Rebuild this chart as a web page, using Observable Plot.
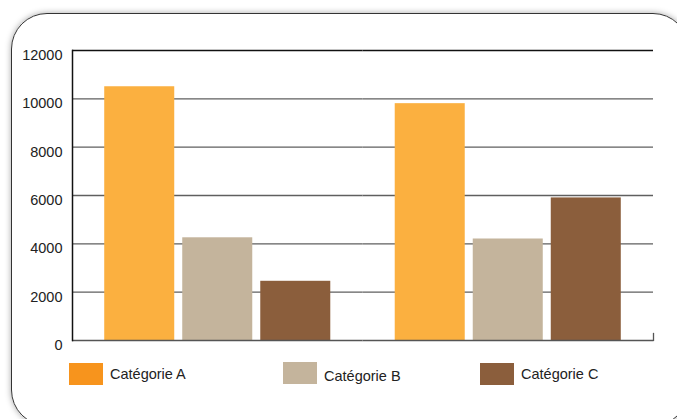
<!DOCTYPE html>
<html>
<head>
<meta charset="utf-8">
<script src="https://cdn.jsdelivr.net/npm/d3@7"></script>
<script src="https://cdn.jsdelivr.net/npm/@observablehq/plot@0.6"></script>
<style>
html, body { margin: 0; padding: 0; background: #fff; overflow: hidden; width: 677px; height: 419px; }
#wrap { position: relative; width: 677px; height: 419px; font-family: "Liberation Sans", Arial, sans-serif; }
#chart { position: absolute; left: 0; top: 0; }
#border { position: absolute; left: 11px; top: 13px; width: 678px; height: 413px; border: 1.5px solid #333;
  border-radius: 36px; box-shadow: 0 0 6px rgba(0,0,0,0.35); pointer-events: none; box-sizing: border-box; }
.leg { position: absolute; display: flex; align-items: center; font-size: 14.5px; color: #222; white-space: nowrap; }
.sw { width: 34px; height: 22px; margin-right: 7px; }
</style>
</head>
<body>
<div id="wrap">
  <div id="chart"></div>
  <div id="border"></div>
</div>
<script>
// ---- data ----
const groups = ["Groupe 1", "Groupe 2"];
const categories = ["Catégorie A", "Catégorie B", "Catégorie C"];
const valuesGroup1 = [10500, 4250, 2450];
const valuesGroup2 = [9800, 4200, 5900];
const yTicks = [0, 2000, 4000, 6000, 8000, 10000, 12000];
const barColors = ["#FBB040", "#C4B49C", "#8B5E3C"];
const legendColors = ["#F7941D", "#C4B49C", "#8B5E3C"];

const rows = [];
[valuesGroup1, valuesGroup2].forEach((vals, gi) => {
  vals.forEach((v, ci) => rows.push({group: groups[gi], category: categories[ci], value: v}));
});

const plot = Plot.plot({
  width: 677,
  height: 419,
  marginLeft: 72,
  marginRight: 24,
  marginTop: 50,
  marginBottom: 79,
  style: {background: "transparent", fontFamily: "'Liberation Sans', Arial, sans-serif"},
  fx: {domain: groups, padding: 0, axis: null, round: false},
  x: {domain: categories, paddingInner: 8 / 78, paddingOuter: 0.413, axis: null, round: false},
  y: {domain: [0, 12000], axis: null},
  color: {domain: categories, range: barColors},
  marks: [
    Plot.ruleY(yTicks.filter(t => t > 0 && t < 12000), {stroke: "#5f5f5f", strokeWidth: 1.3}),
    Plot.ruleY([12000], {stroke: "#111", strokeWidth: 1.3}),
    Plot.barY(rows, {fx: "group", x: "category", y: "value", fill: "category"}),
    Plot.ruleY([0], {stroke: "#555", strokeWidth: 1.5}),
    Plot.frame({anchor: "left", facetAnchor: "left", stroke: "#111", strokeWidth: 1.5}),
    Plot.frame({anchor: "right", facetAnchor: "right", stroke: "#555", strokeWidth: 1.3, insetTop: 283}),
    Plot.axisY({ticks: yTicks, tickSize: 0, tickPadding: 10, dy: 5, fontSize: 14.5, fill: "#222",
      tickFormat: d => String(d), anchor: "left", label: null})
  ]
});
document.getElementById("chart").appendChild(plot);

// legend
const legendLayout = [{left: 69, top: 363, dy: 0}, {left: 283, top: 362, dy: 3}, {left: 480, top: 363, dy: 0}];
const wrap = document.getElementById("wrap");
categories.forEach((c, i) => {
  const d = document.createElement("div");
  d.className = "leg";
  d.style.left = legendLayout[i].left + "px";
  d.style.top = legendLayout[i].top + "px";
  const sw = document.createElement("div");
  sw.className = "sw";
  sw.style.background = legendColors[i];
  const t = document.createElement("span");
  t.textContent = c;
  t.style.position = "relative";
  t.style.top = legendLayout[i].dy + "px";
  d.appendChild(sw);
  d.appendChild(t);
  wrap.appendChild(d);
});
</script>
</body>
</html>
